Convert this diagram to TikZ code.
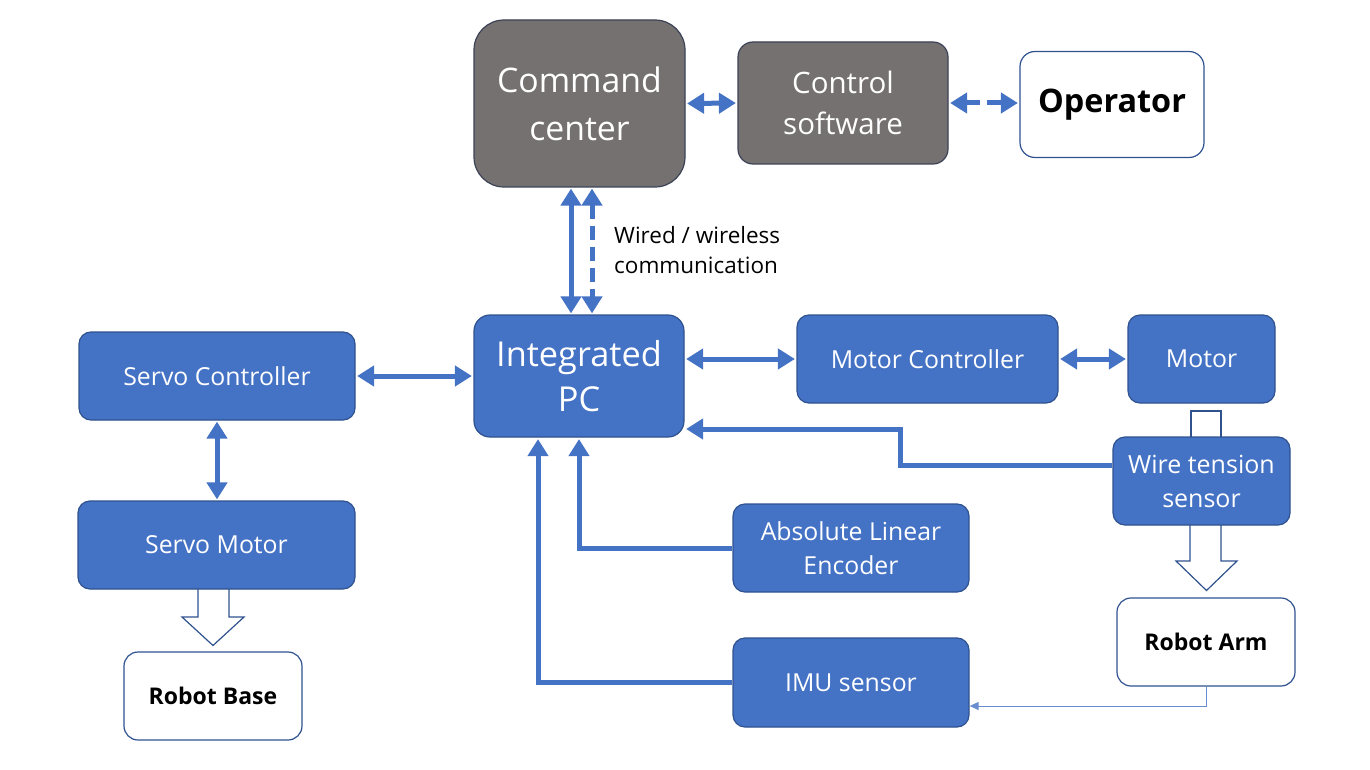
\documentclass[tikz,border=0pt]{standalone}
\usepackage{fontspec}
\setmainfont{Open Sans}
\usetikzlibrary{arrows.meta,calc}
\definecolor{bluef}{HTML}{4472C4}
\definecolor{blued}{HTML}{2F528F}
\definecolor{grayf}{HTML}{767171}
\definecolor{grayd}{HTML}{3B4256}
\tikzset{
  box/.style={draw=blued,line width=1.2pt,fill=bluef,text=white,rounded corners=12pt,
    inner sep=0pt,align=center,font=\fontsize{24.8}{29}\selectfont},
  gbox/.style={draw=grayd,line width=1.2pt,fill=grayf,text=white,inner sep=0pt,align=center},
  wbox/.style={draw=blued,line width=1.2pt,fill=white,text=black,rounded corners=14pt,
    inner sep=0pt,align=center,font=\bfseries\fontsize{23}{29}\selectfont},
  dbl/.style={draw=bluef,line width=5pt,
    {Triangle[length=17pt,width=20pt]}-{Triangle[length=17pt,width=20pt]}},
  dbld/.style={dbl,dash pattern=on 14pt off 7pt},
  arr/.style={draw=bluef,line width=5pt,-{Triangle[length=17pt,width=20pt]}},
  thin/.style={draw=bluef!80,line width=1pt,-{Triangle[length=9pt,width=8pt]}},
  hollow/.style={draw=blued,line width=1.2pt,fill=white,line join=miter},
  lbl/.style={text=black,align=left,inner sep=0pt,anchor=west,font=\fontsize{22.5}{30}\selectfont}
}
\begin{document}
\begin{tikzpicture}[x=1pt,y=-1pt]
\useasboundingbox (0,0) rectangle (1370,770);

% hollow block arrows (behind boxes)
\draw[hollow] (1191,411) rectangle (1221,445);
\draw[hollow] (1190,520) -- (1190,561) -- (1176,561) -- (1206.5,590.5) -- (1237,561) -- (1221,561) -- (1221,520);
\draw[hollow] (198,580) -- (198,617) -- (182,617) -- (213,645.5) -- (244,617) -- (229,617) -- (229,580);

% nodes
\node[gbox,rounded corners=30pt,minimum width=211pt,minimum height=167pt,
  font=\fontsize{33.8}{48}\selectfont] (cmd) at (579.5,103.5) {Command\\center};
\node[gbox,rounded corners=15pt,minimum width=210pt,minimum height=122pt,
  font=\fontsize{29.5}{41}\selectfont] (ctrl) at (843,103) {Control\\software};
\node[wbox,rounded corners=15pt,minimum width=184pt,minimum height=106pt,
  font=\bfseries\fontsize{32.4}{36}\selectfont] (op) at (1112,104.5) {Operator};
\node[box,rounded corners=16pt,minimum width=210pt,minimum height=122pt,
  font=\fontsize{34.3}{45}\selectfont] (pc) at (579,376) {Integrated\\PC};
\node[box,minimum width=276pt,minimum height=88pt] (sc) at (217,376) {Servo Controller};
\node[box,minimum width=277pt,minimum height=88pt] (sm) at (216.5,545) {Servo Motor};
\node[wbox,minimum width=178pt,minimum height=88pt] (rb) at (213,696) {Robot Base};
\node[box,minimum width=261pt,minimum height=88pt] (mc) at (927.5,359) {Motor Controller};
\node[box,minimum width=147pt,minimum height=88pt] (mot) at (1201.5,359) {Motor};
\node[box,minimum width=177pt,minimum height=88pt,font=\fontsize{25}{34}\selectfont] (wts) at (1201.5,481) {Wire tension\\sensor};
\node[wbox,minimum width=178pt,minimum height=88pt] (ra) at (1206,642) {Robot Arm};
\node[box,minimum width=236pt,minimum height=88pt,font=\fontsize{24.8}{34}\selectfont] (ale) at (851,548) {Absolute Linear\\Encoder};
\node[box,minimum width=236pt,minimum height=89pt] (imu) at (851,682.5) {IMU sensor};

\node[lbl] (wl) at (614,250) {Wired / wireless\\communication};

% connectors
\draw[dbl,shorten <=1.5pt,shorten >=1.5pt] (cmd.east) -- (ctrl.west);
\draw[dbld,shorten <=1.5pt,shorten >=1.5pt] (ctrl.east) -- (op.west |- ctrl.east);
\draw[dbl,shorten <=1pt,shorten >=1pt] ([xshift=-8.5pt]cmd.south) -- ([xshift=-8pt]pc.north);
\draw[dbld,shorten <=1pt,shorten >=1pt] ([xshift=12.5pt]cmd.south) -- ([xshift=13pt]pc.north);
\draw[dbl,shorten <=1.5pt,shorten >=1.5pt] (sc.east) -- (pc.west);
\draw[dbl,shorten <=1pt,shorten >=1pt] (sc.south) -- (sc.south |- sm.north);
\draw[dbl,shorten <=1.5pt,shorten >=1.5pt] (pc.east |- mc.west) -- (mc.west);
\draw[dbl,shorten <=1.5pt,shorten >=1.5pt] (mc.east) -- (mot.west);
\draw[arr,shorten >=1.5pt] ([yshift=16pt]wts.west) -- (900,465) |- ([yshift=-53pt]pc.east);
\draw[arr,shorten >=1.5pt] (ale.west) -| (pc.south);
\draw[arr,shorten >=1.5pt] (imu.west) -| ([xshift=-41pt]pc.south);
\draw[thin] (ra.south) |- ([yshift=-23.5pt]imu.east);
\end{tikzpicture}
\end{document}
